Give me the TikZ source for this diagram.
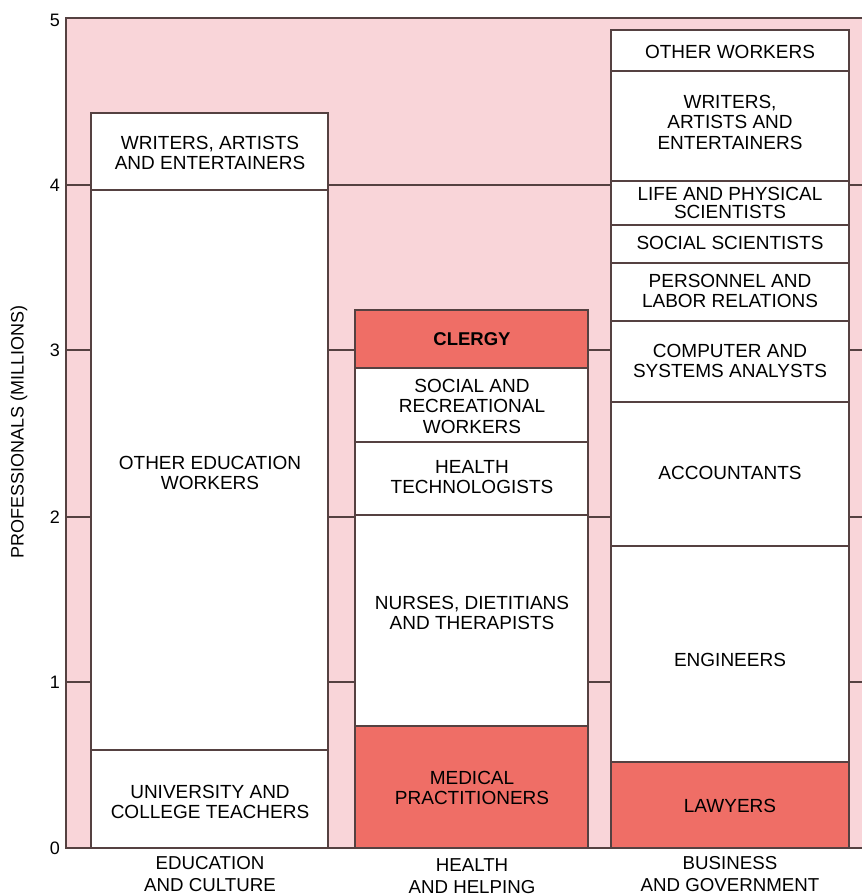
\documentclass[tikz,border=0pt]{standalone}
\usepackage{fontspec}
\setmainfont{Liberation Sans}
\definecolor{bgpink}{RGB}{249,213,217}
\definecolor{segred}{RGB}{239,110,102}
\definecolor{edge}{RGB}{85,65,65}
\begin{document}
\begin{tikzpicture}[x=1pt,y=-1pt,
  seg/.style={draw=edge,line width=1.4pt,fill=white},
  redseg/.style={draw=edge,line width=1.4pt,fill=segred},
  grid/.style={draw=edge,line width=1.4pt},
  lab/.style={align=center,font=\fontsize{19}{20.5}\selectfont,inner sep=0pt},
  tick/.style={font=\fontsize{18}{20}\selectfont,inner sep=0pt},
  cat/.style={align=center,font=\fontsize{18.7}{22}\selectfont,inner sep=0pt,anchor=north}]
\useasboundingbox (0,0) rectangle (862,894);
\fill[bgpink] (66,18) rectangle (862,848);
% frame
\draw[grid] (862,18) -- (66,18) -- (66,848) -- (862,848);
% grid lines at 1,2,3
\foreach \yy in {682,517,350}{
  \draw[grid] (66,\yy) -- (91,\yy);
  \draw[grid] (328,\yy) -- (355,\yy);
  \draw[grid] (588,\yy) -- (611,\yy);
  \draw[grid] (849,\yy) -- (862,\yy);
}
\draw[grid] (66,185) -- (91,185);
\draw[grid] (328,185) -- (611,185);
\draw[grid] (849,185) -- (862,185);
% tick labels
\node[tick] (t0) at (55,848) {0};
\node[tick] (t1) at (55,682) {1};
\node[tick] (t2) at (55,517) {2};
\node[tick] (t3) at (55,350) {3};
\node[tick] (t4) at (55,185) {4};
\node[tick] (t5) at (55,20) {5};
\node[tick,rotate=90] (ylab) at (19,432) {PROFESSIONALS (MILLIONS)};
% bar 1
\draw[seg] (91,113) rectangle (328,190);
\draw[seg] (91,190) rectangle (328,750);
\draw[seg] (91,750) rectangle (328,848);
\node[lab] (b1a) at (210,153) {WRITERS, ARTISTS\\AND ENTERTAINERS};
\node[lab] (b1b) at (210,473) {OTHER EDUCATION\\WORKERS};
\node[lab] (b1c) at (210,802) {UNIVERSITY AND\\COLLEGE TEACHERS};
% bar 2
\draw[redseg] (355,310) rectangle (588,368);
\draw[seg] (355,368) rectangle (588,442);
\draw[seg] (355,442) rectangle (588,515);
\draw[seg] (355,515) rectangle (588,726);
\draw[redseg] (355,726) rectangle (588,848);
\node[lab,font=\bfseries\fontsize{18.5}{20.5}\selectfont] (b2a) at (472,339) {CLERGY};
\node[lab] (b2b) at (472,406) {SOCIAL AND\\RECREATIONAL\\WORKERS};
\node[lab] (b2c) at (472,477) {HEALTH\\TECHNOLOGISTS};
\node[lab] (b2d) at (472,613) {NURSES, DIETITIANS\\AND THERAPISTS};
\node[lab] (b2e) at (472,788) {MEDICAL\\PRACTITIONERS};
% bar 3
\draw[seg] (611,30) rectangle (849,71);
\draw[seg] (611,71) rectangle (849,181);
\draw[seg] (611,181) rectangle (849,225);
\draw[seg] (611,225) rectangle (849,263);
\draw[seg] (611,263) rectangle (849,321);
\draw[seg] (611,321) rectangle (849,402);
\draw[seg] (611,402) rectangle (849,546);
\draw[seg] (611,546) rectangle (849,762);
\draw[redseg] (611,762) rectangle (849,848);
\node[lab] (b3a) at (730,52) {OTHER WORKERS};
\node[lab] (b3b) at (730,122) {WRITERS,\\ARTISTS AND\\ENTERTAINERS};
\node[lab,font=\fontsize{19}{18}\selectfont] (b3c) at (730,203) {LIFE AND PHYSICAL\\SCIENTISTS};
\node[lab] (b3d) at (730,243) {SOCIAL SCIENTISTS};
\node[lab] (b3e) at (730,291) {PERSONNEL AND\\LABOR RELATIONS};
\node[lab] (b3f) at (730,361) {COMPUTER AND\\SYSTEMS ANALYSTS};
\node[lab] (b3g) at (730,473) {ACCOUNTANTS};
\node[lab] (b3h) at (730,660) {ENGINEERS};
\node[lab] (b3i) at (730,806) {LAWYERS};
% categories
\node[cat] (c1) at (210,856) {EDUCATION\\AND CULTURE};
\node[cat] (c2) at (472,858) {HEALTH\\AND HELPING};
\node[cat] (c3) at (730,856) {BUSINESS\\AND GOVERNMENT};
\end{tikzpicture}
\end{document}
